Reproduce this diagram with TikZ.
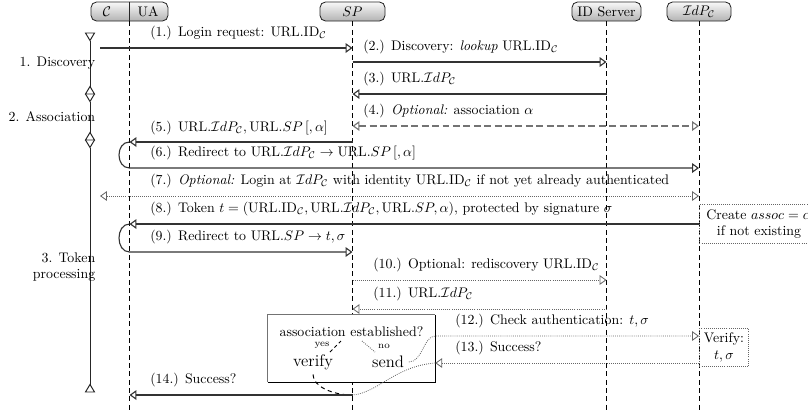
\documentclass[tikz,border=0pt]{standalone}
\usetikzlibrary{arrows.meta}
\begin{document}
\begin{tikzpicture}[x=0.72pt,y=-0.72pt,
  hdr/.style={draw=black!85, line width=0.6pt, rounded corners=4pt, top color=gray!5, bottom color=gray!60, minimum height=13.7pt, inner sep=0pt},
  life/.style={draw=black, line width=0.7pt, dash pattern=on 3.6pt off 2.4pt},
  tip/.style={-{Triangle[open,length=5pt,width=7pt]}},
  both/.style={{Triangle[open,length=5pt,width=7pt]}-{Triangle[open,length=5pt,width=7pt]}},
  msg/.style={draw=black!80, line width=0.8pt},
  dsh/.style={draw=black!55, line width=0.8pt, dash pattern=on 5pt off 2.5pt},
  dot/.style={draw=black!60, line width=0.6pt, dash pattern=on 0.6pt off 0.9pt},
  lbl/.style={anchor=base west, inner sep=0pt},
  tl/.style={draw=black!85, line width=0.7pt},
  side/.style={anchor=east, inner sep=0pt, align=right},
  dotbox/.style={draw=black!60, line width=0.6pt, dash pattern=on 0.6pt off 0.9pt, align=center, anchor=west},
]
\useasboundingbox (0,0) rectangle (808,410);

% headers
\node[hdr, minimum width=55.4pt] (hCUA) at (129.5,11.5) {};
\draw[black!85, line width=0.6pt] (hCUA.north) -- (hCUA.south);
\node (tC) at (107,11.5) {$\mathcal{C}$};
\node (tUA) at (148,11.5) {UA};
\node[hdr, minimum width=46.8pt] (hSP) at (352.5,11.5) {$SP$};
\node[hdr, minimum width=49.7pt] (hIDS) at (606.5,11.5) {ID Server};
\node[hdr, minimum width=46.1pt] (hIdP) at (699,11.5) {$\mathcal{I}dP_{\mathcal{C}}$};

% lifeline x positions
\coordinate (UA) at (hCUA.south);
\coordinate (SP) at (hSP.south);
\coordinate (IDS) at (hIDS.south);
\coordinate (IdP) at (hIdP.south);
\coordinate (cC) at (100,21);

% lifelines
\draw[life] (UA) -- (UA |- 0,410);
\draw[life] (SP) -- (SP |- 0,410);
\draw[life] (IDS) -- (IDS |- 0,410);
\draw[life] (IdP) -- (IdP |- 0,410);

% message rows
\coordinate (r1) at (0,48);
\coordinate (r2) at (0,62);
\coordinate (r3) at (0,94);
\coordinate (r4) at (0,126);
\coordinate (r5) at (0,142);
\coordinate (r6) at (0,168);
\coordinate (r7) at (0,196);
\coordinate (r8) at (0,224);
\coordinate (r9) at (0,252);
\coordinate (r10) at (0,280);
\coordinate (r11) at (0,309);
\coordinate (r12) at (0,336);
\coordinate (r13) at (0,363);
\coordinate (r14) at (0,395);

% left timeline
\draw[tl] (85.5,33) -- (94.5,33) -- (90,40.5) -- cycle;
\draw[tl] (90,40.5) -- (90,86.5);
\draw[tl] (90,86.5) -- (85.5,94) -- (94.5,94) -- cycle;
\draw[tl] (85.5,94) -- (90,101.5) -- (94.5,94);
\draw[tl] (90,101.5) -- (90,132.5);
\draw[tl] (90,132.5) -- (85.5,140) -- (94.5,140) -- cycle;
\draw[tl] (85.5,140) -- (90,147.5) -- (94.5,140);
\draw[tl] (90,147.5) -- (90,384.5);
\draw[tl] (90,384.5) -- (85.5,392) -- (94.5,392) -- cycle;
\node[side] (ph1) at (95.5,63) {1. Discovery};
\node[side] (ph2) at (95.5,117) {2. Association};
\node[side] (ph3) at (95.5,267) {3. Token\\processing};

% messages
\draw[msg,tip] (cC |- r1) -- (SP |- r1);
\node[lbl] (l1) at (150,36.5) {(1.) Login request: URL.ID$_{\mathcal{C}}$};

\draw[msg,tip] (SP |- r2) -- (IDS |- r2);
\node[lbl] (l2) at (363,50.5) {(2.) Discovery: \textit{lookup} URL.ID$_{\mathcal{C}}$};

\draw[msg,tip] (IDS |- r3) -- (SP |- r3);
\node[lbl] (l3) at (363,82.5) {(3.) URL.$\mathcal{I}dP_{\mathcal{C}}$};

\draw[dsh,both] (SP |- r4) -- (IdP |- r4);
\node[lbl] (l4) at (363,114.5) {(4.) \textit{Optional:} association $\alpha$};

\draw[msg,tip] (SP |- r5) -- (UA |- r5);
\node[lbl] (l5) at (150,131) {(5.) URL.$\mathcal{I}dP_{\mathcal{C}},\mathrm{URL}.SP\,[,\alpha]$};

\draw[msg,tip] (UA |- r5) .. controls +(-14,0) and +(-14,0) .. (UA |- r6) -- (IdP |- r6);
\node[lbl] (l6) at (150,156.5) {(6.) Redirect to URL.$\mathcal{I}dP_{\mathcal{C}}\rightarrow\mathrm{URL}.SP\,[,\alpha]$};

\draw[dot,both] (cC |- r7) -- (IdP |- r7);
\node[lbl] (l7) at (150,184.5) {(7.) \textit{Optional:} Login at $\mathcal{I}dP_{\mathcal{C}}$ with identity URL.ID$_{\mathcal{C}}$ if not yet already authenticated};

\draw[msg,tip] (IdP |- r8) -- (UA |- r8);
\node[lbl] (l8) at (150,212.5) {(8.) Token $t=(\mathrm{URL.ID}_{\mathcal{C}},\mathrm{URL}.\mathcal{I}dP_{\mathcal{C}},\mathrm{URL}.SP,\alpha)$, protected by signature $\sigma$};

\draw[msg,tip] (UA |- r8) .. controls +(-14,0) and +(-14,0) .. (UA |- r9) -- (SP |- r9);
\node[lbl] (l9) at (150,240.5) {(9.) Redirect to URL.$SP\rightarrow t,\sigma$};

\draw[dot,tip] (SP |- r10) -- (IDS |- r10);
\node[lbl] (l10) at (373,268.5) {(10.) Optional: rediscovery URL.ID$_{\mathcal{C}}$};

\draw[dot,tip] (IDS |- r11) -- (SP |- r11);
\node[lbl] (l11) at (373,297.5) {(11.) URL.$\mathcal{I}dP_{\mathcal{C}}$};

% side notes at IdP
\node[dotbox, inner xsep=5pt, inner ysep=3.2pt] (create) at (IdP |- r8) {Create $assoc=\alpha$\\if not existing};
\node[dotbox, inner xsep=3.2pt, inner ysep=3.2pt] (verifybox) at (699,347.5) {Verify:\\$t,\sigma$};

% check box
\node[fill=white, minimum width=120.2pt, minimum height=48.2pt, inner sep=0pt] (chk) at (351.5,348.5) {};
\draw[black!55, line width=1pt] (chk.south west) -- (chk.north west) -- (chk.north east);
\draw[black, line width=1pt] (chk.north east) -- (chk.south east) -- (chk.south west);
\node[inner sep=0pt] (q) at (351.5,332) {association established?};
\node[font=\scriptsize, inner sep=0pt] (yes) at (322,345) {yes};
\node[font=\scriptsize, inner sep=0pt] (no) at (384,346) {no};
\node[font=\large] (verify) at (313,362) {verify};
\node[font=\large] (send) at (388,362) {send};
\draw[black, line width=0.7pt, dash pattern=on 2.5pt off 2pt] (330,352) -- (341,341);
\draw[dot] (362,341) -- (375,352);

\coordinate (c13) at (chk.east |- r13);

\draw[dot,tip] (send.east) .. controls +(14,0) and +(-12,0) .. (chk.east |- r12) -- (IdP |- r12);
\node[lbl] (l12) at (455,324.5) {(12.) Check authentication: $t,\sigma$};

\draw[dot,tip] (IdP |- r13) -- (c13);
\node[lbl] (l13) at (455,351.5) {(13.) Success?};

\draw[dot] (c13) .. controls +(-40,3) and +(25,-2) .. (SP |- r14);
\draw[black, line width=0.7pt, dash pattern=on 3pt off 2.5pt] (verify.south) .. controls +(0,12) and +(-20,0) .. (SP |- r14);

\draw[msg,tip] (SP |- r14) -- (UA |- r14);
\node[lbl] (l14) at (150,383.5) {(14.) Success?};
\end{tikzpicture}
\end{document}
